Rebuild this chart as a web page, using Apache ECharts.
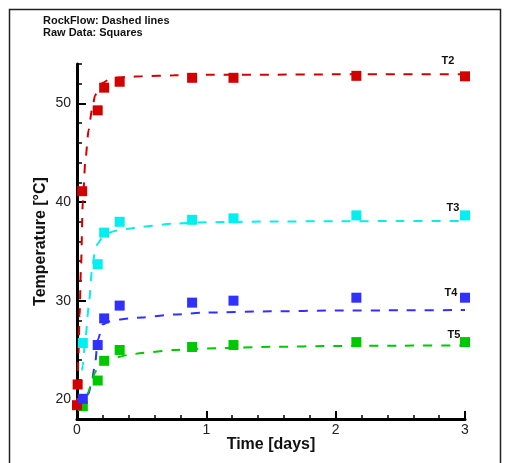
<!DOCTYPE html>
<html>
<head>
<meta charset="utf-8">
<script src="https://cdn.jsdelivr.net/npm/echarts@6/dist/echarts.min.js"></script>
<style>
  html, body { margin: 0; padding: 0; background: #fff; }
  #chart { width: 518px; height: 463px; }
</style>
</head>
<body>
<div id="chart"></div>
<script>
// Measured temperatures (squares), time in days
const rawTimeT2 = [0, 0.005, 0.04, 0.16, 0.21, 0.33, 0.89, 1.21, 2.16, 3.0];
const rawT2 = [19.4, 21.5, 41.1, 49.3, 51.6, 52.2, 52.6, 52.6, 52.8, 52.75];
const rawTime = [0.045, 0.16, 0.21, 0.33, 0.89, 1.21, 2.16, 3.0];
const rawT3 = [25.7, 33.7, 36.9, 38.0, 38.2, 38.35, 38.65, 38.65];
const rawT4 = [20.05, 25.5, 28.2, 29.5, 29.8, 30.0, 30.3, 30.3];
const rawT5 = [19.3, 21.9, 23.9, 25.0, 25.3, 25.5, 25.8, 25.8];

// RockFlow model results (dashed lines)
const modelTime = [0, 0.01, 0.02, 0.03, 0.045, 0.065, 0.09, 0.115, 0.14, 0.16, 0.2, 0.25, 0.3, 0.4, 0.5, 0.75, 1, 1.5, 2, 2.5, 3];
const modelT2 = [19.2, 24, 28.5, 33, 40, 44.3, 47.3, 49.3, 50.8, 51.4, 52.1, 52.45, 52.6, 52.7, 52.75, 52.85, 52.9, 52.92, 52.95, 52.95, 52.97];
const modelT3 = [19.3, 19.8, 20.5, 21.5, 23.5, 26.2, 29.3, 33.0, 35.1, 35.8, 36.5, 36.9, 37.1, 37.3, 37.5, 37.8, 37.95, 38.03, 38.06, 38.07, 38.08];
const modelT4 = [19.2, 19.2, 19.25, 19.3, 19.4, 19.6, 20.6, 21.9, 23.6, 26.0, 27.6, 27.9, 28.05, 28.2, 28.3, 28.6, 28.8, 28.92, 29.0, 29.02, 29.05];
const modelT5 = [19.0, 19.05, 19.1, 19.2, 19.4, 19.8, 20.8, 21.9, 22.7, 23.3, 23.85, 24.1, 24.25, 24.5, 24.7, 25.0, 25.15, 25.32, 25.4, 25.44, 25.46];

// Axis ticks
const yMajorTicks = [20, 30, 40, 50];

const colors = { T2: '#d40000', T3: '#00f0f0', T4: '#3030ff', T5: '#00c800' };
const labelOffsets = { T2: [-17, -15], T3: [-12, -7], T4: [-14, -5], T5: [-11, -7] };

function pairs(xs, ys) {
  return xs.map((x, i) => [x, ys[i]]);
}

function modelSeries(name, values) {
  return {
    name: name + ' model',
    type: 'line',
    data: pairs(modelTime, values),
    showSymbol: false,
    symbol: 'none',
    smooth: 0.25,
    smoothMonotone: 'x',
    lineStyle: { color: colors[name], width: 2, type: [9, 9] },
    z: 2,
    silent: true
  };
}

function rawSeries(name, times, values, z) {
  const data = pairs(times, values).map((p, i, arr) => {
    if (i !== arr.length - 1) return p;
    return {
      value: p,
      label: {
        show: true,
        formatter: name,
        position: 'inside',
        offset: labelOffsets[name],
        color: '#111',
        fontFamily: 'Liberation Sans, Arial, sans-serif',
        fontWeight: 'bold',
        fontSize: 11
      }
    };
  });
  return {
    name: name,
    type: 'scatter',
    data: data,
    symbol: 'rect',
    symbolSize: 10,
    itemStyle: { color: colors[name], opacity: 1 },
    clip: false,
    z: z,
    silent: true
  };
}

const chart = echarts.init(document.getElementById('chart'), null, { renderer: 'canvas' });

const axisFont = 'Liberation Sans, Arial, sans-serif';

chart.setOption({
  animation: false,
  backgroundColor: '#fff',
  textStyle: { fontFamily: axisFont },
  graphic: [
    {
      type: 'rect',
      shape: { x: 9.5, y: 9.5, width: 491, height: 470 },
      style: { fill: 'none', stroke: '#222', lineWidth: 1.5 },
      silent: true
    },
    {
      type: 'text',
      left: 43, top: 15,
      style: { text: 'RockFlow: Dashed lines', font: 'bold 11px ' + axisFont, fill: '#111' }
    },
    {
      type: 'text',
      left: 43, top: 27,
      style: { text: 'Raw Data: Squares', font: 'bold 11px ' + axisFont, fill: '#111' }
    }
  ],
  grid: { left: 77, right: 53, top: 64, bottom: 44, containLabel: false },
  xAxis: {
    type: 'value',
    min: 0, max: 3, interval: 1,
    name: 'Time [days]',
    nameLocation: 'middle',
    nameGap: 18,
    nameMoveOverlap: false,
    nameTextStyle: { fontFamily: axisFont, fontWeight: 'bold', fontSize: 16, color: '#111', verticalAlign: 'top' },
    axisLine: { show: true, onZero: false, lineStyle: { color: '#000', width: 3 } },
    axisTick: { show: true, inside: true, length: 8, lineStyle: { color: '#000', width: 2 } },
    minorTick: { show: true, splitNumber: 5, length: 4, lineStyle: { color: '#000', width: 1.5 } },
    axisLabel: { fontFamily: axisFont, fontSize: 14, color: '#222', margin: 4 },
    splitLine: { show: false },
    minorSplitLine: { show: false }
  },
  yAxis: [
    {
      type: 'value',
      min: 18, max: 54,
      name: 'Temperature [°C]',
      nameLocation: 'middle',
      nameGap: 28,
      nameMoveOverlap: false,
      nameRotate: 90,
      nameTextStyle: { fontFamily: axisFont, fontWeight: 'bold', fontSize: 16, color: '#111', verticalAlign: 'bottom' },
      axisLine: { show: true, onZero: false, lineStyle: { color: '#000', width: 3 } },
      axisTick: { show: true, inside: true, length: 9, customValues: yMajorTicks, lineStyle: { color: '#000', width: 2 } },
      axisLabel: { fontFamily: axisFont, fontSize: 14, color: '#222', margin: 6, customValues: yMajorTicks },
      splitLine: { show: false }
    },
    {
      type: 'value',
      min: 18, max: 54, interval: 2,
      position: 'left',
      axisLine: { show: false },
      axisTick: { show: true, inside: true, length: 5, lineStyle: { color: '#000', width: 1.5 } },
      axisLabel: { show: false },
      splitLine: { show: false }
    }
  ],
  series: [
    modelSeries('T2', modelT2),
    modelSeries('T3', modelT3),
    modelSeries('T4', modelT4),
    modelSeries('T5', modelT5),
    rawSeries('T5', rawTime, rawT5, 3),
    rawSeries('T2', rawTimeT2, rawT2, 4),
    rawSeries('T3', rawTime, rawT3, 4),
    rawSeries('T4', rawTime, rawT4, 5)
  ]
});
</script>
</body>
</html>
